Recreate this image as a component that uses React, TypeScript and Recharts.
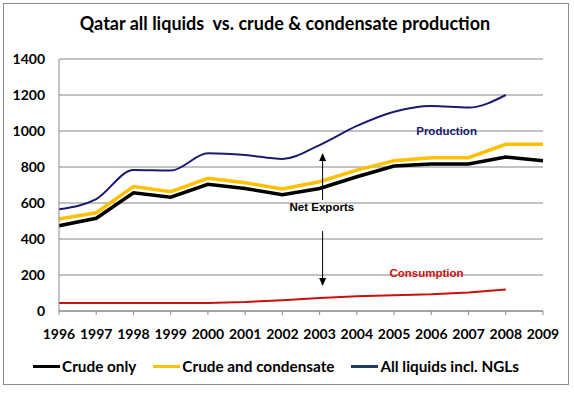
import React from "react";
import {
  LineChart,
  Line,
  XAxis,
  YAxis,
  CartesianGrid,
  Legend,
  ReferenceLine,
  ReferenceDot,
} from "recharts";

// kb/d
const years = [1996, 1997, 1998, 1999, 2000, 2001, 2002, 2003, 2004, 2005, 2006, 2007, 2008, 2009];
const crudeOnly = [474, 515, 657, 632, 704, 681, 646, 681, 746, 805, 817, 817, 855, 835];
const crudeCondensate = [511, 546, 691, 663, 737, 713, 678, 718, 783, 835, 852, 852, 926, 926];
const allLiquids = [565, 622, 783, 780, 876, 867, 845, 922, 1028, 1107, 1139, 1130, 1200];
const consumption = [45, 45, 45, 45, 45, 50, 60, 72, 82, 88, 93, 103, 120];
const yTicks = [0, 200, 400, 600, 800, 1000, 1200, 1400];

const data = years.map((year, i) => ({
  year,
  crude: crudeOnly[i],
  condensate: crudeCondensate[i],
  liquids: allLiquids[i] ?? null,
  consumption: consumption[i] ?? null,
}));

const FONT = "Lato, 'Open Sans', sans-serif";
const GRID = "#868686";

const legendItems = [
  { label: "Crude only", color: "#000000" },
  { label: "Crude and condensate", color: "#FFC000" },
  { label: "All liquids incl. NGLs", color: "#1F3864" },
];

function ChartLegend() {
  return (
    <div
      style={{
        display: "flex",
        justifyContent: "center",
        alignItems: "center",
        fontFamily: FONT,
        fontWeight: 700,
        fontSize: 15.3,
        color: "#000",
      }}
    >
      {legendItems.map((item, i) => (
        <div
          key={item.label}
          style={{ display: "flex", alignItems: "center", marginRight: i < legendItems.length - 1 ? 17 : 0 }}
        >
          <span style={{ display: "inline-block", width: 27, height: 3, background: item.color, marginRight: 2 }} />
          <span>{item.label}</span>
        </div>
      ))}
    </div>
  );
}

function Arrow(props: any) {
  const { x1, y1, x2, y2 } = props;
  const dir = y2 < y1 ? -1 : 1;
  return (
    <g>
      <line x1={x1} y1={y1} x2={x2} y2={y2 - dir * 6} stroke="#000" strokeWidth={1} />
      <polygon
        points={`${x2 - 3.5},${y2 - dir * 8} ${x2 + 3.5},${y2 - dir * 8} ${x2},${y2}`}
        fill="#000"
      />
    </g>
  );
}

const annotationLabel = (value: string, fill: string) => ({
  value,
  position: "center" as const,
  fill,
  fontSize: 11.5,
  fontWeight: 700,
  fontFamily: "'Liberation Sans', Arial, sans-serif",
});

export default function App() {
  return (
    <div style={{ position: "absolute", left: 0, top: 0, width: 574, height: 393, background: "#fff" }}>
      <div
        style={{
          position: "absolute",
          left: 3,
          top: 3,
          width: 564,
          height: 380,
          border: "1.5px solid #8c8c8c",
        }}
      />
      <div
        style={{
          position: "absolute",
          left: 0,
          top: 12,
          width: 570,
          textAlign: "center",
          fontFamily: FONT,
          fontWeight: 700,
          fontSize: 18,
          color: "#000",
        }}
      >
        Qatar all liquids&nbsp; vs. crude &amp; condensate production
      </div>
      <LineChart width={574} height={393} data={data} margin={{ top: 59, right: 31, left: 9, bottom: 16 }}>
        <CartesianGrid vertical={false} stroke={GRID} strokeWidth={1} />
        <XAxis
          dataKey="year"
          type="number"
          domain={[1996, 2009]}
          ticks={years}
          height={46}
          axisLine={{ stroke: GRID }}
          tickLine={{ stroke: GRID }}
          tickSize={4}
          tickMargin={14}
          tick={{ fill: "#000", fontSize: 14, fontWeight: 700, fontFamily: FONT }}
          interval={0}
        />
        <YAxis
          domain={[0, 1400]}
          ticks={yTicks}
          width={50}
          axisLine={{ stroke: GRID }}
          tickLine={false}
          tickMargin={8}
          tick={{ fill: "#000", fontSize: 14, fontWeight: 700, fontFamily: FONT }}
        />
        <Legend verticalAlign="bottom" height={20} content={() => <ChartLegend />} />
        <Line
          dataKey="consumption"
          stroke="#CC1010"
          strokeWidth={2}
          dot={false}
          legendType="none"
          isAnimationActive={false}
        />
        <Line dataKey="liquids" type="monotone" stroke="#1a1a72" strokeWidth={2} dot={false} isAnimationActive={false} />
        <Line dataKey="condensate" stroke="#FFC000" strokeWidth={3.5} dot={false} isAnimationActive={false} />
        <Line dataKey="crude" stroke="#000000" strokeWidth={3.5} dot={false} isAnimationActive={false} />
        <ReferenceLine
          segment={[
            { x: 2003.08, y: 617 },
            { x: 2003.08, y: 878 },
          ]}
          shape={Arrow}
        />
        <ReferenceLine
          segment={[
            { x: 2003.08, y: 444 },
            { x: 2003.08, y: 139 },
          ]}
          shape={Arrow}
        />
        <ReferenceDot x={2006.41} y={1000} r={0} stroke="none" fill="none" label={annotationLabel("Production", "#1a1a72")} />
        <ReferenceDot x={2003.06} y={578} r={0} stroke="none" fill="none" label={annotationLabel("Net Exports", "#000")} />
        <ReferenceDot x={2005.87} y={211} r={0} stroke="none" fill="none" label={annotationLabel("Consumption", "#CC1010")} />
      </LineChart>
    </div>
  );
}
